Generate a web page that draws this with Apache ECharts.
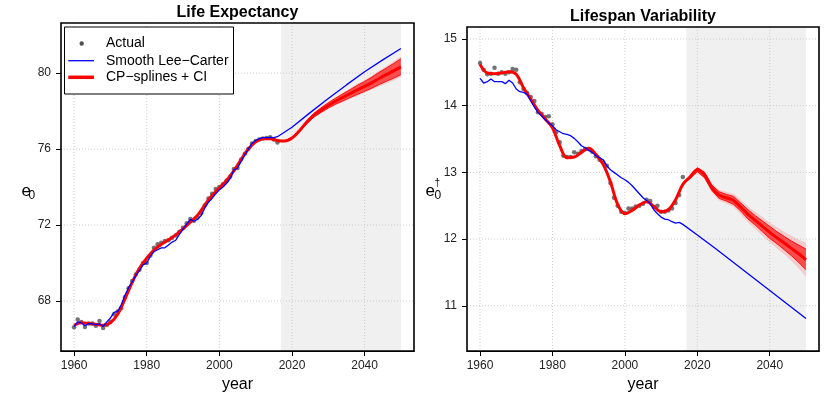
<!DOCTYPE html>
<html>
<head>
<meta charset="utf-8">
<script src="https://cdn.jsdelivr.net/npm/echarts@6/dist/echarts.min.js"></script>
<style>
  html, body { margin: 0; padding: 0; background: #fff; }
  #chart { width: 827px; height: 398px; }
</style>
</head>
<body>
<div id="chart"></div>
<script>
// ---------- data ----------
const xTicks = [1960, 1980, 2000, 2020, 2040];
const yTicksL = [68, 72, 76, 80];
const yTicksR = [11, 12, 13, 14, 15];
const forecastStart = 2017;
const forecastEnd = 2050;

// observed years 1960..2016, spline years 1960..2050 by 2, forecast years 2016..2050 by 2
const seq = (a, b, s) => { const r = []; for (let v = a; v <= b; v += s) r.push(v); return r; };
const yearsObs = seq(1960, 2016, 1);
const yearsCP = seq(1960, 2050, 2);
const yearsFc = seq(2016, 2050, 2);
const yearsLCfc = [2020, 2025, 2030, 2035, 2040, 2045, 2050];

// Life expectancy e0
const obsL = [66.62, 67.03, 66.89, 66.63, 66.82, 66.82, 66.70, 66.94, 66.58, 66.73,
              66.90, 67.30, 67.45, 67.62, 68.20, 68.67, 69.05, 69.40, 69.65, 70.00,
              70.00, 70.39, 70.80, 70.99, 71.07, 71.16, 71.20, 71.33, 71.45, 71.64,
              71.86, 72.10, 72.32, 72.22, 72.39, 72.62, 73.04, 73.40, 73.65, 73.90,
              74.00, 74.15, 74.35, 74.55, 74.95, 75.00, 75.45, 75.75, 76.02, 76.30,
              76.42, 76.50, 76.56, 76.58, 76.62, 76.50, 76.35];
const lcFitL = [66.65, 66.90, 66.85, 66.70, 66.80, 66.80, 66.75, 66.80, 66.65, 66.90,
                67.10, 67.40, 67.45, 67.80, 68.30, 68.70, 69.00, 69.35, 69.60, 69.90,
                70.00, 70.35, 70.60, 70.70, 70.80, 70.80, 70.95, 71.10, 71.20, 71.50,
                71.80, 72.05, 72.30, 72.20, 72.30, 72.50, 72.90, 73.20, 73.40, 73.65,
                73.85, 74.00, 74.20, 74.45, 74.90, 75.00, 75.35, 75.70, 76.00, 76.30,
                76.45, 76.55, 76.60, 76.60, 76.62, 76.60, 76.65];
const lcFcL = [77.15, 77.92, 78.66, 79.38, 80.07, 80.70, 81.30];
const cpL = [66.72, 66.85, 66.82, 66.78, 66.72, 66.85, 67.30, 68.10, 68.98, 69.72,
             70.25, 70.68, 70.98, 71.22, 71.48, 71.80, 72.15, 72.52, 73.05, 73.55,
             73.95, 74.35, 74.85, 75.45, 76.00, 76.38, 76.55, 76.55, 76.45, 76.42,
             76.58, 76.95, 77.40, 77.78, 78.05, 78.30, 78.52, 78.72, 78.92, 79.12,
             79.30, 79.50, 79.72, 79.92, 80.12, 80.33];
const ciInLoL  = [76.45, 76.40, 76.54, 76.89, 77.32, 77.68, 77.93, 78.16, 78.36, 78.53, 78.71, 78.88, 79.04, 79.21, 79.40, 79.57, 79.73, 79.92];
const ciInHiL  = [76.45, 76.44, 76.62, 77.01, 77.48, 77.88, 78.17, 78.44, 78.68, 78.91, 79.13, 79.36, 79.56, 79.79, 80.04, 80.27, 80.51, 80.76];
const ciOutLoL = [76.45, 76.39, 76.53, 76.87, 77.29, 77.65, 77.89, 78.12, 78.31, 78.47, 78.64, 78.80, 78.96, 79.12, 79.30, 79.46, 79.61, 79.78];
const ciOutHiL = [76.45, 76.45, 76.63, 77.03, 77.51, 77.91, 78.21, 78.48, 78.73, 78.97, 79.20, 79.44, 79.64, 79.88, 80.14, 80.38, 80.63, 80.88];

// Lifespan variability e0-dagger
const obsR = [14.64, 14.54, 14.47, 14.48, 14.57, 14.48, 14.50, 14.48, 14.50, 14.55,
              14.54, 14.35, 14.25, 14.19, 14.13, 14.07, 13.90, 13.88, 13.83, 13.84,
              13.72, 13.60, 13.45, 13.25, 13.23, 13.23, 13.30, 13.28, 13.32, 13.35,
              13.35, 13.31, 13.24, 13.19, 13.15, 13.10, 12.84, 12.62, 12.50, 12.41,
              12.39, 12.46, 12.46, 12.49, 12.50, 12.53, 12.59, 12.57, 12.48, 12.50,
              12.41, 12.41, 12.43, 12.46, 12.54, 12.66, 12.93];
const lcFitR = [14.41, 14.34, 14.36, 14.40, 14.36, 14.36, 14.36, 14.33, 14.38, 14.34,
                14.25, 14.21, 14.20, 14.17, 14.07, 13.98, 13.90, 13.85, 13.79, 13.74,
                13.70, 13.64, 13.61, 13.58, 13.57, 13.55, 13.51, 13.46, 13.40, 13.37,
                13.33, 13.30, 13.25, 13.22, 13.19, 13.10, 13.04, 13.00, 12.96, 12.92,
                12.89, 12.85, 12.80, 12.74, 12.68, 12.62, 12.58, 12.53, 12.44, 12.38,
                12.33, 12.30, 12.29, 12.26, 12.24, 12.25, 12.22];
const lcFcR = [12.06, 11.86, 11.65, 11.44, 11.23, 11.02, 10.81];
const cpR = [14.62, 14.49, 14.48, 14.49, 14.51, 14.47, 14.27, 14.10, 13.93, 13.80,
             13.67, 13.40, 13.22, 13.23, 13.30, 13.36, 13.27, 13.12, 12.86, 12.52,
             12.38, 12.43, 12.51, 12.56, 12.49, 12.41, 12.44, 12.59, 12.82, 12.93,
             13.04, 12.96, 12.77, 12.66, 12.62, 12.58, 12.48, 12.37, 12.28, 12.19,
             12.10, 12.02, 11.94, 11.86, 11.78, 11.69];
const ciInLoR  = [12.82, 12.91, 13.01, 12.92, 12.73, 12.61, 12.57, 12.52, 12.42, 12.30, 12.21, 12.11, 12.01, 11.93, 11.84, 11.75, 11.65, 11.54];
const ciInHiR  = [12.82, 12.95, 13.07, 13.00, 12.81, 12.71, 12.67, 12.64, 12.54, 12.44, 12.35, 12.27, 12.19, 12.11, 12.04, 11.97, 11.91, 11.85];
const ciOutLoR = [12.82, 12.90, 12.99, 12.90, 12.70, 12.58, 12.53, 12.48, 12.37, 12.25, 12.15, 12.05, 11.95, 11.86, 11.77, 11.67, 11.56, 11.43];
const ciOutHiR = [12.82, 12.96, 13.09, 13.02, 12.84, 12.74, 12.71, 12.68, 12.59, 12.49, 12.41, 12.33, 12.25, 12.18, 12.11, 12.05, 11.99, 11.95];

// ---------- chart ----------
const FONT = '"Liberation Sans", Arial, Helvetica, sans-serif';
const pairs = (xs, ys) => xs.map((x, i) => [x, ys[i]]);

const panels = [
  { grid: { left: 61, top: 23, width: 353, height: 336 }, yMin: 65.36, yMax: 82.64, yTicks: yTicksL,
    obs: obsL, lcFit: lcFitL, lcFc: lcFcL, cp: cpL,
    inLo: ciInLoL, inHi: ciInHiL, outLo: ciOutLoL, outHi: ciOutHiL },
  { grid: { left: 467, top: 27, width: 352, height: 336 }, yMin: 10.32, yMax: 15.18, yTicks: yTicksR,
    obs: obsR, lcFit: lcFitR, lcFc: lcFcR, cp: cpR,
    inLo: ciInLoR, inHi: ciInHiR, outLo: ciOutLoR, outHi: ciOutHiR }
];
const X_MIN = 1956.4, X_MAX = 2053.6;
const GRID_STYLE = { stroke: '#cccccc', lineWidth: 1, lineDash: [1, 2] };

const grids = [], xAxes = [], yAxes = [], series = [];
panels.forEach((p, i) => {
  grids.push(Object.assign({ show: true, borderColor: '#000', borderWidth: 1.6, backgroundColor: 'transparent' }, p.grid));
  xAxes.push({
    gridIndex: i, type: 'value', min: X_MIN, max: X_MAX,
    name: 'year', nameLocation: 'middle', nameGap: 19,
    nameTextStyle: { fontFamily: FONT, fontSize: 16, color: '#000' },
    axisLine: { show: false },
    axisTick: { show: true, inside: false, length: 5, customValues: xTicks, lineStyle: { color: '#000', width: 1 } },
    axisLabel: { customValues: xTicks, margin: 9, fontFamily: FONT, fontSize: 12, color: '#222',
                 formatter: v => String(v) },
    splitLine: { show: false }
  });
  yAxes.push({
    gridIndex: i, type: 'value', min: p.yMin, max: p.yMax,
    axisLine: { show: false },
    axisTick: { show: true, inside: false, length: 5, customValues: p.yTicks, lineStyle: { color: '#000', width: 1 } },
    axisLabel: { customValues: p.yTicks, margin: 10, fontFamily: FONT, fontSize: 12, color: '#222',
                 formatter: v => String(v) },
    splitLine: { show: false }
  });

  const ax = { xAxisIndex: i, yAxisIndex: i };
  // forecast period shading
  series.push(Object.assign({
    type: 'custom', z: -2, silent: true,
    data: [[forecastStart, forecastEnd]],
    encode: { x: [0, 1] },
    renderItem: (params, api) => {
      const a = api.coord([api.value(0), p.yMax]);
      const b = api.coord([api.value(1), p.yMin]);
      return { type: 'rect', shape: { x: a[0], y: a[1], width: b[0] - a[0], height: b[1] - a[1] },
               style: { fill: '#f0f0f0' } };
    }
  }, ax));
  // dotted reference grid at the tick values
  series.push(Object.assign({
    type: 'custom', z: -1, silent: true, data: xTicks.map(v => [v]), encode: { x: 0 },
    renderItem: (params, api) => {
      const a = api.coord([api.value(0), p.yMax]);
      const b = api.coord([api.value(0), p.yMin]);
      return { type: 'line', shape: { x1: a[0], y1: a[1], x2: b[0], y2: b[1] }, style: GRID_STYLE };
    }
  }, ax));
  series.push(Object.assign({
    type: 'custom', z: -1, silent: true, data: p.yTicks.map(v => [X_MIN, v]), encode: { x: 0, y: 1 },
    renderItem: (params, api) => {
      const a = api.coord([X_MIN, api.value(1)]);
      const b = api.coord([X_MAX, api.value(1)]);
      return { type: 'line', shape: { x1: a[0], y1: a[1], x2: b[0], y2: b[1] }, style: GRID_STYLE };
    }
  }, ax));

  // confidence bands drawn as one polygon: upper edge forward, lower edge back
  const band = (lo, hi, color) => {
    series.push(Object.assign({
      type: 'custom', silent: true, clip: true,
      data: yearsFc.map((y, k) => [y, lo[k], hi[k]]),
      encode: { x: 0, y: [1, 2] },
      renderItem: (params, api) => {
        if (params.dataIndexInside !== 0) return null;
        const n = params.dataInsideLength;
        const up = [], dn = [];
        for (let k = 0; k < n; k++) {
          up.push(api.coord([api.value(0, k), api.value(2, k)]));
          dn.push(api.coord([api.value(0, k), api.value(1, k)]));
        }
        return { type: 'polygon', shape: { points: up.concat(dn.reverse()) }, style: { fill: color } };
      }
    }, ax));
  };
  band(p.outLo, p.outHi, 'rgba(255,0,0,0.15)');
  band(p.inLo, p.inHi, 'rgba(255,0,0,0.62)');
  [p.inLo, p.inHi].forEach(b => series.push(Object.assign({
    type: 'line', data: pairs(yearsFc, b), symbol: 'none',
    lineStyle: { color: '#ff0000', width: 0.9 }, silent: true }, ax)));

  // CP-splines central line
  series.push(Object.assign({ type: 'line', name: 'CP-splines + CI', data: pairs(yearsCP, p.cp), smooth: 0.35,
    symbol: 'none', lineStyle: { color: '#ff0000', width: 3 } }, ax));
  // Smooth Lee-Carter
  series.push(Object.assign({ type: 'line', name: 'Smooth Lee-Carter',
    data: pairs(yearsObs, p.lcFit).concat(pairs(yearsLCfc, p.lcFc)),
    symbol: 'none', lineStyle: { color: '#0000ff', width: 1.3 } }, ax));
  // observed values
  series.push(Object.assign({ type: 'scatter', name: 'Actual', data: pairs(yearsObs, p.obs),
    symbol: 'circle', symbolSize: 4.5, itemStyle: { color: '#505050' } }, ax));
});

const txt = (x, y, text, size) => ({
  type: 'text', x: x, y: y, silent: true,
  style: { text: text, fontFamily: FONT, fontSize: size, fill: '#000', align: 'left', verticalAlign: 'middle' }
});

const graphics = [
  // legend
  { type: 'rect', shape: { x: 64.5, y: 27, width: 169, height: 67 }, style: { fill: '#fff', stroke: '#000', lineWidth: 1 }, z: 10 },
  { type: 'circle', shape: { cx: 81.7, cy: 43.5, r: 2.2 }, style: { fill: '#505050' }, z: 11 },
  { type: 'line', shape: { x1: 68.3, y1: 60.7, x2: 94, y2: 60.7 }, style: { stroke: '#0000ff', lineWidth: 1.3 }, z: 11 },
  { type: 'line', shape: { x1: 68.3, y1: 77.3, x2: 94, y2: 77.3 }, style: { stroke: '#ff0000', lineWidth: 3.5 }, z: 11 },
  Object.assign(txt(106, 43.5, 'Actual', 14), { z: 11 }),
  Object.assign(txt(106, 60.7, 'Smooth Lee\u2212Carter', 14), { z: 11 }),
  Object.assign(txt(106, 77.3, 'CP\u2212splines + CI', 14), { z: 11 }),
  // y-axis titles
  txt(21.5, 191, 'e', 17),
  txt(28.5, 196, '0', 12),
  txt(425.5, 191, 'e', 17),
  txt(434.5, 196, '0', 12),
  txt(434.5, 183, '\u2020', 10)
];

const chart = echarts.init(document.getElementById('chart'), null, { renderer: 'canvas' });
chart.setOption({
  animation: false,
  backgroundColor: '#fff',
  title: [
    { text: 'Life Expectancy', left: 237.5, textAlign: 'center', top: 5, padding: 0,
      textStyle: { fontFamily: FONT, fontSize: 16, fontWeight: 'bold', color: '#000' } },
    { text: 'Lifespan Variability', left: 643, textAlign: 'center', top: 9, padding: 0,
      textStyle: { fontFamily: FONT, fontSize: 16, fontWeight: 'bold', color: '#000' } }
  ],
  grid: grids,
  xAxis: xAxes,
  yAxis: yAxes,
  series: series,
  graphic: graphics
});
</script>
</body>
</html>
